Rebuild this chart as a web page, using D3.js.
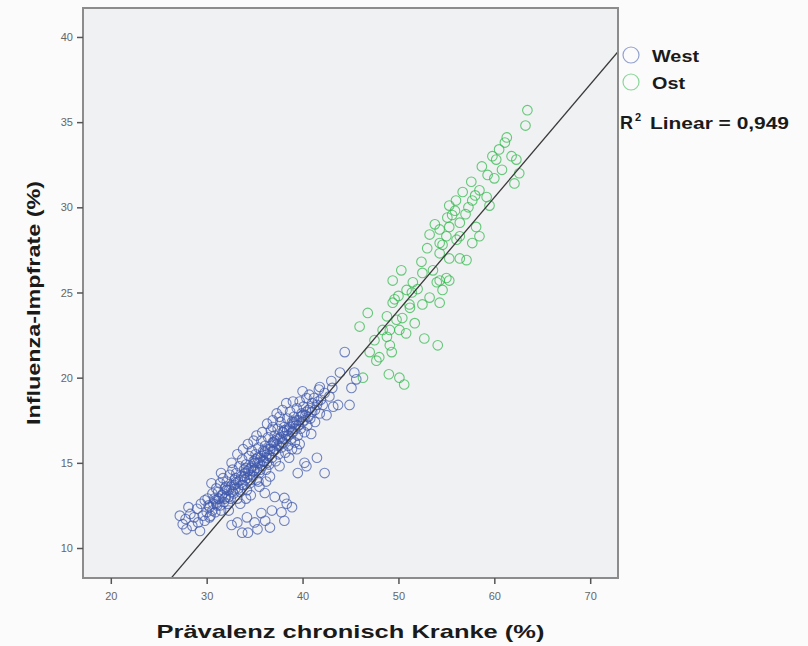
<!DOCTYPE html>
<html><head><meta charset="utf-8">
<script src="https://cdn.jsdelivr.net/npm/d3@7"></script>
<style>
html,body{margin:0;padding:0;background:#fbfbfb;}
svg{display:block;}
</style></head>
<body>
<svg id="chart" width="808" height="646"></svg>
<script>
// ---- data ----
const xTicks = [20, 30, 40, 50, 60, 70];
const yTicks = [10, 15, 20, 25, 30, 35, 40];
const seriesNames = ["West", "Ost"];
const xLabel = "Prävalenz chronisch Kranke (%)";
const yLabel = "Influenza-Impfrate (%)";
const r2Text = "0,949";
const regIntercept = -9.2;
const regSlope = 0.663;

const west = [
 [27.2,11.9],[27.5,11.4],[27.8,11.7],[27.9,11.1],[28.3,12.0],[28.5,11.3],[28.7,11.8],[29.0,12.3],[29.1,11.5],[29.4,12.6],[29.6,11.9],[29.8,12.8],[30.0,12.1],[28.1,12.4],[29.3,11.0],
 [30.1,12.9],[30.3,12.4],[30.4,11.9],[30.6,13.2],[30.7,12.6],[30.9,12.1],[31.0,13.5],[30.5,13.8],[30.8,12.9],
 [31.1,12.5],[31.2,13.3],[31.3,12.9],[31.4,13.8],[31.5,12.2],[31.6,13.1],[31.7,14.1],[31.8,12.7],[31.9,13.5],[31.5,14.4],
 [32.0,13.0],[32.1,13.9],[32.2,12.6],[32.3,13.4],[32.4,14.3],[32.5,12.9],[32.6,13.7],[32.7,14.6],[32.8,13.2],[32.9,14.0],[32.3,12.2],[32.6,15.0],
 [33.0,13.5],[33.1,14.4],[33.2,12.9],[33.3,13.9],[33.4,14.8],[33.5,13.3],[33.6,14.2],[33.7,15.2],[33.8,13.7],[33.9,14.6],[33.2,15.5],[33.5,12.6],[33.8,15.8],
 [34.0,14.0],[34.1,14.9],[34.2,13.4],[34.3,14.5],[34.4,15.4],[34.5,13.8],[34.6,14.7],[34.7,15.7],[34.8,14.2],[34.9,15.1],[34.3,16.1],[34.6,13.1],[34.9,16.3],[34.1,12.9],
 [35.0,14.6],[35.1,15.5],[35.2,14.0],[35.3,15.0],[35.4,15.9],[35.5,14.4],[35.6,15.3],[35.7,16.3],[35.8,14.8],[35.9,15.7],[35.2,16.6],[35.5,13.6],[35.8,16.8],[35.4,13.9],
 [36.0,15.1],[36.1,16.0],[36.2,14.6],[36.3,15.5],[36.4,16.5],[36.5,14.9],[36.6,15.8],[36.7,16.9],[36.8,15.3],[36.9,16.2],[36.3,17.3],[36.6,14.2],[36.9,17.5],[36.2,13.9],
 [37.0,15.7],[37.1,16.6],[37.2,15.1],[37.3,16.1],[37.4,17.0],[37.5,15.5],[37.6,16.4],[37.7,17.4],[37.8,15.9],[37.9,16.8],[37.3,17.9],[37.6,14.8],[37.9,18.1],
 [38.0,16.2],[38.1,17.1],[38.2,15.6],[38.3,16.6],[38.4,17.6],[38.5,16.0],[38.6,17.0],[38.7,18.0],[38.8,16.4],[38.9,17.4],[38.3,18.5],[38.6,15.3],[38.9,15.8],
 [39.0,16.8],[39.1,17.7],[39.2,16.2],[39.3,17.2],[39.4,18.2],[39.5,16.6],[39.6,17.5],[39.7,18.6],[39.8,17.0],[39.9,17.9],[39.4,15.8],[39.7,16.1],
 [40.0,17.4],[40.1,18.3],[40.2,16.8],[40.3,17.8],[40.4,18.8],[40.5,17.2],[40.6,18.1],[40.7,19.0],[40.8,17.6],[40.9,16.7],
 [41.0,18.0],[41.2,18.8],[41.3,17.4],[41.5,18.4],[41.7,19.3],[41.8,17.9],[41.9,18.7],
 [42.1,18.4],[42.3,19.1],[42.5,17.8],[42.8,18.9],[43.0,19.8],[43.2,18.3],
 [44.4,21.5],[43.9,20.3],[45.4,20.3],[45.6,19.9],[45.1,19.4],[44.9,18.4],[43.7,18.4],[43.1,19.4],[41.8,19.45],[40.0,19.2],[39.0,18.6],[37.6,17.7],[36.9,17.1],
 [36.06,13.23],[37.1,13.0],[38.1,12.94],[38.9,12.4],[37.8,12.1],[36.8,12.2],[36.1,11.6],[35.0,11.5],[34.2,11.8],[33.2,11.5],[35.3,11.1],[34.3,10.9],[38.1,11.6],
 [32.6,11.35],[33.7,10.9],[35.7,12.05],[39.5,14.4],[40.2,15.0],[41.5,15.3],[42.3,14.4],[40.4,14.8],[38.35,12.6],[36.6,11.2],[30.3,11.8],[29.8,11.6],
 [30.2,12.5],[30.6,12.2],[30.9,12.8],[31.2,12.9],[31.4,12.5],[31.7,13.2],[31.9,12.9],[32.1,13.4],[32.3,13.0],[32.5,13.6],[32.7,13.3],[32.9,13.7],
 [33.1,13.8],[33.3,13.5],[33.5,14.0],[33.7,13.7],[33.9,14.2],[34.0,14.4],[34.2,14.1],[34.4,14.6],[34.5,14.3],[34.7,14.8],[34.9,14.5],[35.0,15.0],
 [35.2,14.7],[35.3,15.3],[35.5,15.0],[35.7,15.4],[35.9,15.1],[36.0,15.6],[36.2,15.3],[36.4,15.8],[36.5,15.4],[36.7,16.0],[36.9,15.7],[37.0,16.2],
 [37.2,15.8],[37.4,16.4],[37.5,16.0],[37.7,16.5],[37.9,16.2],[38.0,16.8],[38.2,16.4],[38.4,16.9],[38.5,16.6],[38.7,17.1],[38.9,16.8],[39.0,17.3],
 [39.2,17.0],[39.4,17.5],[39.6,17.2],[39.8,17.7],[40.0,17.8],[40.2,17.5],[40.4,18.0],[40.6,17.7],[40.8,18.2],[41.0,18.5],[41.3,18.1],[41.6,18.6],
 [33.0,14.1],[34.1,14.7],[35.1,15.2],[36.1,15.7],[37.1,16.3],[38.1,16.9],[39.1,17.4],[32.0,13.6],[31.0,12.6],[36.3,15.0],[35.6,14.6],[34.6,14.0]
];

const ost = [
 [63.45,35.7],[63.25,34.8],[61.3,34.1],[61.1,33.8],[60.5,33.4],[60.2,32.8],[62.3,32.8],[62.6,32.0],[62.1,31.4],[58.7,32.4],
 [59.3,31.9],[57.6,31.5],[58.45,31.0],[60.0,31.7],[56.7,30.9],[59.2,30.6],[57.7,30.4],[59.5,30.1],[55.3,30.1],[55.6,29.55],
 [56.4,29.1],[55.3,28.85],[54.3,28.7],[53.25,28.4],[54.3,27.9],[58.1,28.85],[58.45,28.3],[57.7,27.9],[56.4,28.3],[55.1,29.4],
 [56.06,28.1],[54.6,27.8],[54.3,27.3],[55.3,27.0],[56.4,27.0],[57.1,26.9],[52.4,26.8],[52.5,26.15],[50.3,26.3],[49.4,25.7],
 [50.85,25.15],[54.0,25.6],[55.0,25.85],[54.6,25.15],[53.25,24.7],[54.3,24.4],[52.5,24.3],[51.2,24.1],[49.4,24.4],[48.8,23.6],
 [49.8,23.4],[50.4,23.5],[51.7,23.2],[49.1,22.8],[48.8,22.4],[45.95,23.0],[48.0,21.2],[49.3,21.5],[52.7,22.3],[54.1,21.9],
 [50.1,20.0],[50.6,19.6],[47.0,21.5],[47.7,21.0],[46.3,20.0],[51.4,25.0],[54.3,25.7],[55.3,25.7],[55.9,29.8],[57.0,29.6],
 [56.0,30.4],[53.8,29.0],[55.0,28.3],[57.3,30.0],[58.0,30.7],[60.8,32.2],[59.8,33.0],[61.8,33.0],[50.0,24.8],[51.5,25.6],
 [53.0,27.6],[52.0,25.2],[50.8,22.6],[47.5,22.2],[46.8,23.8],[53.6,26.3],[49.0,20.2],
 [48.35,22.8],[49.1,21.9],[49.6,24.6],[50.1,22.8],[51.15,24.3]
];

// ---- layout ----
const svg = d3.select("#chart");
const plot = {left: 83, top: 8, right: 618, bottom: 578};
const x = d3.scaleLinear().domain([17.1, 72.9]).range([plot.left, plot.right]);
const y = d3.scaleLinear().domain([8.24, 41.7]).range([plot.bottom, plot.top]);
const colors = {West: "#3e58ac", Ost: "#2eb848"};
const font = "Liberation Sans, Arial, sans-serif";

svg.append("rect").attr("x", 0).attr("y", 0).attr("width", 808).attr("height", 646).attr("fill", "#fbfbfb");

svg.append("defs").append("clipPath").attr("id", "clip")
  .append("rect").attr("x", plot.left).attr("y", plot.top)
  .attr("width", plot.right - plot.left).attr("height", plot.bottom - plot.top);

svg.append("rect").attr("x", plot.left).attr("y", plot.top)
  .attr("width", plot.right - plot.left).attr("height", plot.bottom - plot.top)
  .attr("fill", "#f0f1f3");

const g = svg.append("g").attr("clip-path", "url(#clip)");

function drawSeries(data, color) {
  g.append("g").selectAll("circle").data(data).join("circle")
    .attr("cx", d => x(d[0])).attr("cy", d => y(d[1])).attr("r", 4.8)
    .attr("fill", "none").attr("stroke", color).attr("stroke-width", 1.1)
    .attr("stroke-opacity", 0.72);
}
drawSeries(west, colors.West);
drawSeries(ost, colors.Ost);

// regression line
const xd = x.domain();
g.append("line")
  .attr("x1", x(xd[0])).attr("y1", y(regIntercept + regSlope * xd[0]))
  .attr("x2", x(xd[1])).attr("y2", y(regIntercept + regSlope * xd[1]))
  .attr("stroke", "#3a3a3a").attr("stroke-width", 1.3);

// frame
svg.append("rect").attr("x", plot.left).attr("y", plot.top)
  .attr("width", plot.right - plot.left).attr("height", plot.bottom - plot.top)
  .attr("fill", "none").attr("stroke", "#8c8c8c").attr("stroke-width", 2);

// axes
const xAxis = svg.append("g").attr("transform", `translate(0,${plot.bottom})`)
  .call(d3.axisBottom(x).tickValues(xTicks).tickSize(6).tickPadding(8).tickFormat(d3.format("d")));
const yAxis = svg.append("g").attr("transform", `translate(${plot.left},0)`)
  .call(d3.axisLeft(y).tickValues(yTicks).tickSize(6).tickPadding(4).tickFormat(d3.format("d")));
[xAxis, yAxis].forEach(a => {
  a.select(".domain").remove();
  a.selectAll(".tick line").attr("stroke", "#555").attr("stroke-width", 1.5);
  a.selectAll(".tick text").attr("fill", "#666").attr("font-family", font).attr("font-size", 11);
});

// axis titles
svg.append("text").attr("x", (plot.left + plot.right) / 2).attr("y", 638)
  .attr("text-anchor", "middle").attr("font-family", font)
  .attr("font-weight", "bold").attr("font-size", 19).attr("fill", "#1a1a1a")
  .attr("textLength", 388).attr("lengthAdjust", "spacingAndGlyphs")
  .text(xLabel);
svg.append("text").attr("transform", `translate(40,303) rotate(-90)`)
  .attr("text-anchor", "middle").attr("font-family", font)
  .attr("font-weight", "bold").attr("font-size", 19).attr("fill", "#1a1a1a")
  .attr("textLength", 244).attr("lengthAdjust", "spacingAndGlyphs")
  .text(yLabel);

// legend
const legendY = [55, 82];
const legendW = [47, 33];
seriesNames.forEach((name, i) => {
  svg.append("circle").attr("cx", 631).attr("cy", legendY[i]).attr("r", 8)
    .attr("fill", "none").attr("stroke", colors[name]).attr("stroke-width", 1.2).attr("stroke-opacity", 0.55);
  svg.append("text").attr("x", 652).attr("y", legendY[i] + 7)
    .attr("font-family", font).attr("font-weight", "bold")
    .attr("font-size", 16).attr("fill", "#1a1a1a")
    .attr("textLength", legendW[i]).attr("lengthAdjust", "spacingAndGlyphs")
    .text(name);
});
svg.append("text").attr("x", 620).attr("y", 129)
  .attr("font-family", font).attr("font-weight", "bold")
  .attr("font-size", 18).attr("fill", "#1a1a1a").text("R");
svg.append("text").attr("x", 635).attr("y", 121)
  .attr("font-family", font).attr("font-weight", "bold")
  .attr("font-size", 11).attr("fill", "#1a1a1a").text("2");
svg.append("text").attr("x", 650).attr("y", 129)
  .attr("font-family", font).attr("font-weight", "bold")
  .attr("font-size", 16).attr("fill", "#1a1a1a")
  .attr("textLength", 139).attr("lengthAdjust", "spacingAndGlyphs")
  .text("Linear = " + r2Text);
</script>
</body></html>
